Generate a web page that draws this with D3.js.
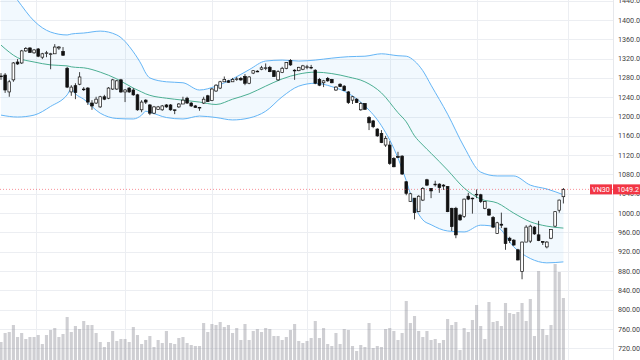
<!DOCTYPE html>
<html><head><meta charset="utf-8">
<script src="https://cdn.jsdelivr.net/npm/d3@7"></script>
<style>html,body{margin:0;padding:0;background:#fff;overflow:hidden}svg{display:block}</style>
</head><body><svg id="c" width="640" height="360"></svg>
<script>
// ---- data ----
const symbol = "VN30";
const lastPrice = 1049.2;
const opens = [1284,1286,1251,1276,1313,1311,1336,1342,1332,1340,
1323,1331,1329,1330,1342,1335,1300,1251,1264,1267,
1257,1259,1228,1228,1220,1241,1238,1257,1257,1276,
1251,1259,1255,1245,1214,1234,1224,1207,1215,1214,
1224,1224,1214,1220,1226,1238,1228,1222,1219,1228,
1243,1233,1253,1259,1272,1274,1272,1277,1279,1283,
1269,1290,1293,1298,1300,1302,1295,1276,1291,1300,
1316,1295,1295,1298,1302,1302,1296,1277,1270,1279,
1277,1255,1267,1263,1251,1234,1236,1214,1227,1198,
1191,1174,1165,1141,1141,1113,1117,1118,1065,1024,
1031,1003,1027,1069,1051,1060,1060,1058,1055,1010,
1010,996,993,1035,1031,1038,1038,1010,1008,991,
958,977,969,948,944,924,879,940,942,971,
955,941,930,948,973,1006,1034];
const highs = [1290,1290,1276,1313,1319,1338,1344,1344,1340,1342,
1332,1336,1332,1350,1346,1344,1303,1265,1269,1292,
1261,1261,1234,1241,1243,1245,1261,1278,1276,1278,
1257,1261,1259,1247,1234,1236,1226,1222,1222,1224,
1226,1226,1214,1228,1241,1241,1230,1224,1220,1241,
1245,1259,1267,1274,1283,1276,1280,1282,1282,1288,
1284,1296,1296,1305,1310,1305,1296,1296,1303,1313,
1319,1298,1303,1307,1307,1307,1298,1280,1276,1282,
1278,1263,1269,1265,1253,1243,1238,1230,1228,1201,
1193,1176,1172,1160,1149,1116,1127,1120,1066,1042,
1031,1037,1054,1071,1052,1067,1062,1060,1056,1011,
1013,998,1030,1042,1032,1049,1040,1025,1010,994,
982,1001,969,951,946,926,941,975,976,973,
984,942,942,967,1004,1028,1052];
const lows = [1276,1249,1241,1272,1307,1309,1334,1332,1330,1323,
1319,1323,1298,1330,1338,1326,1259,1243,1236,1265,
1253,1224,1214,1226,1218,1234,1236,1255,1255,1249,
1230,1249,1243,1212,1209,1226,1203,1205,1214,1212,
1218,1212,1205,1218,1226,1226,1220,1218,1212,1226,
1230,1232,1251,1257,1272,1270,1272,1274,1274,1265,
1267,1288,1292,1296,1296,1292,1282,1274,1290,1298,
1305,1276,1294,1296,1298,1298,1267,1263,1261,1272,
1269,1253,1261,1253,1226,1226,1228,1212,1214,1172,
1176,1158,1145,1137,1100,1095,1114,1079,1037,1023,
987,1002,1025,1056,1031,1055,1042,1048,1002,963,
948,984,990,1027,999,1031,1021,1008,994,969,
957,969,924,938,932,902,863,940,938,955,
942,934,927,946,971,1001,1020];
const closes = [1283,1255,1272,1311,1309,1336,1341,1333,1338,1325,
1330,1332,1330,1344,1344,1327,1261,1261,1250,1282,
1257,1230,1222,1236,1241,1236,1259,1276,1274,1251,
1255,1251,1245,1214,1230,1230,1207,1220,1220,1222,
1220,1214,1213,1226,1234,1228,1222,1219,1219,1236,
1231,1257,1265,1272,1277,1271,1277,1278,1276,1269,
1282,1295,1294,1301,1301,1293,1283,1293,1300,1312,
1307,1296,1302,1305,1303,1301,1269,1265,1274,1274,
1270,1261,1262,1254,1229,1241,1229,1227,1215,1187,
1179,1160,1146,1155,1103,1096,1116,1081,1041,1040,
1001,1035,1051,1058,1046,1060,1053,1056,1003,972,
955,986,1029,1029,1030,1039,1024,1024,996,971,
980,975,937,943,934,903,940,971,973,957,
943,940,940,966,1003,1027,1049.2];
const volumes = [18,27,28,35,23,27,21,23,23,25,
16,25,30,32,23,26,43,28,34,31,
39,35,35,27,18,13,18,29,19,21,
21,18,33,25,16,20,24,13,20,17,
29,17,16,22,23,17,15,14,14,37,
28,36,35,38,33,35,27,32,20,36,
20,29,31,28,32,31,24,24,20,23,
30,36,19,17,19,22,39,22,32,16,
14,27,16,31,30,14,9,15,13,37,
12,14,13,31,32,29,20,27,59,37,
44,29,23,29,20,21,17,20,41,35,
38,10,32,28,40,55,34,21,58,38,
39,34,57,47,46,48,57,39,61,24,
89,31,25,35,96,88,62];
// Bollinger band values read at sample candles
const bandIdx = [0,4,8,12,16,17,18,20,24,28,32,34,35,36,40,44,48,52,56,60,64,68,72,76,80,84,88,92,96,98,100,102,104,108,112,116,120,124,128,132,136];
const upperBand = [1487,1441,1398,1375,1369,1371,1372,1373,1377,1369,1334,1307,1290,1280,1272,1270,1255,1263,1278,1297,1315,1317,1315,1317,1321,1324,1325,1330,1326,1325,1315,1295,1265,1205,1137,1085,1077,1077,1058,1050,1038];
const middleBand = [1348,1322,1313,1307,1305,1303,1302,1301,1292,1278,1259,1251,1247,1244,1238,1234,1230,1225,1236,1247,1263,1278,1288,1292,1289,1282,1272,1249,1208,1189,1160,1141,1124,1089,1052,1029,1021,1000,982,973,969];
const lowerBand = [1203,1199,1203,1221,1245,1257,1247,1236,1207,1196,1195,1203,1211,1209,1198,1195,1201,1198,1193,1197,1211,1241,1263,1269,1262,1248,1222,1181,1114,1067,1015,986,976,963,961,975,971,930,906,897,899];
const priceTicks = d3.range(720, 1441, 40);
const timeGridIdx = [8.5, 30, 51, 74, 94, 115, 137];

// ---- layout ----
const W = 640, H = 360, plotRight = 613;
const svg = d3.select("#c");
const x = d3.scaleLinear().domain([0, 136]).range([1, 563.4]);
const y = d3.scaleLinear().domain([720, 1400]).range([348.3, 20]);
const yv = d3.scaleLinear().domain([0, 100]).range([360, 260]);
const font = "Roboto, 'Liberation Sans', Arial, sans-serif";

const defs = svg.append("defs");
defs.append("clipPath").attr("id","plot").append("rect").attr("x",0).attr("y",0).attr("width",plotRight).attr("height",H);
const g = svg.append("g").attr("clip-path","url(#plot)");

// grid
g.append("g").selectAll("line").data(priceTicks).join("line")
  .attr("x1",0).attr("x2",plotRight).attr("y1",d=>Math.round(y(d))+0.5).attr("y2",d=>Math.round(y(d))+0.5)
  .attr("stroke","#eceef2").attr("stroke-width",1);
g.append("g").selectAll("line").data(timeGridIdx).join("line")
  .attr("x1",d=>Math.round(x(d))+0.5).attr("x2",d=>Math.round(x(d))+0.5).attr("y1",0).attr("y2",H)
  .attr("stroke","#eceef2").attr("stroke-width",1);

// band fill
const bands = bandIdx.map((d,i)=>({i:d,u:upperBand[i],m:middleBand[i],l:lowerBand[i]}));
g.append("path").datum(bands)
  .attr("d", d3.area().x(d=>x(d.i)).y0(d=>y(d.l)).y1(d=>y(d.u)).curve(d3.curveMonotoneX))
  .attr("fill","rgba(33,150,243,0.06)");

// volume
const bw = 3.1;
g.append("g").selectAll("rect").data(volumes).join("rect")
  .attr("x",(d,i)=>x(i)-bw/2).attr("width",bw)
  .attr("y",d=>yv(d)).attr("height",d=>yv(0)-yv(d))
  .attr("fill","rgba(140,140,150,0.42)");

// band lines
const line = k => d3.line().x(d=>x(d.i)).y(d=>y(d[k])).curve(d3.curveMonotoneX);
g.append("path").datum(bands).attr("d",line("u")).attr("fill","none").attr("stroke","#64b5f6").attr("stroke-width",1);
g.append("path").datum(bands).attr("d",line("l")).attr("fill","none").attr("stroke","#64b5f6").attr("stroke-width",1);
g.append("path").datum(bands).attr("d",line("m")).attr("fill","none").attr("stroke","#4caf93").attr("stroke-width",1);

// candles
const cw = 2.7;
const candles = opens.map((o,i)=>({i,o,h:highs[i],l:lows[i],c:closes[i]}));
const cg = g.append("g").selectAll("g").data(candles).join("g");
cg.append("line").attr("x1",d=>x(d.i)).attr("x2",d=>x(d.i)).attr("y1",d=>y(d.h)).attr("y2",d=>y(d.l))
  .attr("stroke","#111").attr("stroke-width",0.8);
cg.append("rect").attr("x",d=>x(d.i)-cw/2).attr("width",cw)
  .attr("y",d=>y(Math.max(d.o,d.c)))
  .attr("height",d=>Math.max(Math.abs(y(d.o)-y(d.c)),0.7))
  .attr("fill",d=>d.c>=d.o?"#fff":"#111").attr("stroke","#111").attr("stroke-width",0.7);

// last price dotted line
g.append("line").attr("x1",0).attr("x2",plotRight).attr("y1",y(lastPrice)).attr("y2",y(lastPrice))
  .attr("stroke","#f23645").attr("stroke-opacity",0.55).attr("stroke-width",1).attr("stroke-dasharray","1,2");

// right axis
svg.append("line").attr("x1",plotRight+0.5).attr("x2",plotRight+0.5).attr("y1",0).attr("y2",H).attr("stroke","#e6e8ec");
svg.append("g").selectAll("text").data(priceTicks).join("text")
  .attr("x",618).attr("y",d=>y(d)).attr("dy","0.35em")
  .attr("font-family",font).attr("font-size",7.2).attr("fill","#444")
  .text(d=>d3.format(".2f")(d));

// labels
const ly = y(lastPrice);
svg.append("rect").attr("x",590).attr("y",ly-5).attr("width",22).attr("height",10).attr("fill","#f23645");
svg.append("text").attr("x",601).attr("y",ly).attr("dy","0.35em").attr("text-anchor","middle")
  .attr("font-family",font).attr("font-size",7.2).attr("fill","#fff").text(symbol);
svg.append("rect").attr("x",613).attr("y",ly-5).attr("width",27).attr("height",10).attr("fill","#f23645");
svg.append("text").attr("x",617).attr("y",ly).attr("dy","0.35em")
  .attr("font-family",font).attr("font-size",7.2).attr("fill","#fff").text(d3.format(".1f")(lastPrice));
</script></body></html>
